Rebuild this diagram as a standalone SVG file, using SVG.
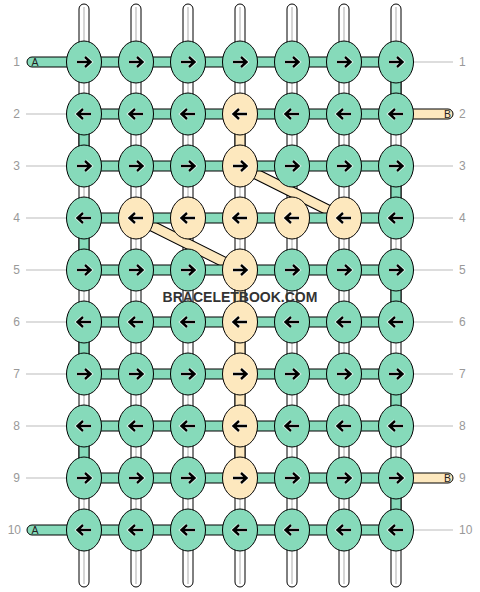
<svg xmlns="http://www.w3.org/2000/svg" xmlns:xlink="http://www.w3.org/1999/xlink" width="480" height="592" viewBox="0 0 480 592">
<style>
.vs{fill:#fff;stroke:#000;stroke-width:1}
.vc{stroke:#bbb;stroke-width:1.2}
.gs{fill:#86DABA;stroke:#000;stroke-width:1}
.ys{fill:#FDE8BE;stroke:#000;stroke-width:1}
.g{fill:#86DABA;stroke:#000;stroke-width:1}
.y{fill:#FDE8BE;stroke:#000;stroke-width:1}
.halo{fill:none;stroke:#fff;stroke-width:4.2;stroke-opacity:0.7}
.arr{fill:none;stroke:#000;stroke-width:2.4}
.gl{stroke:#bbb;stroke-width:1}
.num{font-family:"Liberation Sans",Arial,sans-serif;font-size:12px;fill:#999}
.lt{font-family:"Liberation Sans",Arial,sans-serif;font-size:10.5px;fill:#222}
.wm{font-family:"Liberation Sans",Arial,sans-serif;font-size:14px;font-weight:bold;fill:#333}
</style>
<defs>
<g id="ar"><path d="M-7,0H6M1,-5L6.5,0L1,5" class="halo"/><path d="M-7,0H6M1,-5L6.5,0L1,5" class="arr"/></g>
<g id="al"><path d="M7,0H-6M-1,-5L-6.5,0L-1,5" class="halo"/><path d="M7,0H-6M-1,-5L-6.5,0L-1,5" class="arr"/></g>
<ellipse id="eg" rx="17.5" ry="21" class="g"/>
<ellipse id="ey" rx="17.5" ry="21" class="y"/>
</defs>
<rect width="480" height="592" fill="#fff"/>
<g id="connectors">
<g id="guides">
<line x1="26" y1="114" x2="66.5" y2="114" class="gl"/>
<line x1="26" y1="166" x2="66.5" y2="166" class="gl"/>
<line x1="26" y1="218" x2="66.5" y2="218" class="gl"/>
<line x1="26" y1="270" x2="66.5" y2="270" class="gl"/>
<line x1="26" y1="322" x2="66.5" y2="322" class="gl"/>
<line x1="26" y1="374" x2="66.5" y2="374" class="gl"/>
<line x1="26" y1="426" x2="66.5" y2="426" class="gl"/>
<line x1="26" y1="478" x2="66.5" y2="478" class="gl"/>
<line x1="413.5" y1="62" x2="453" y2="62" class="gl"/>
<line x1="413.5" y1="166" x2="453" y2="166" class="gl"/>
<line x1="413.5" y1="218" x2="453" y2="218" class="gl"/>
<line x1="413.5" y1="270" x2="453" y2="270" class="gl"/>
<line x1="413.5" y1="322" x2="453" y2="322" class="gl"/>
<line x1="413.5" y1="374" x2="453" y2="374" class="gl"/>
<line x1="413.5" y1="426" x2="453" y2="426" class="gl"/>
<line x1="413.5" y1="530" x2="453" y2="530" class="gl"/>
</g>
<g id="vertical-strands">
<rect x="79" y="4" width="10" height="583" rx="5" class="vs"/><line x1="84" y1="7" x2="84" y2="584" class="vc"/>
<rect x="131" y="4" width="10" height="583" rx="5" class="vs"/><line x1="136" y1="7" x2="136" y2="584" class="vc"/>
<rect x="183" y="4" width="10" height="583" rx="5" class="vs"/><line x1="188" y1="7" x2="188" y2="584" class="vc"/>
<rect x="235" y="4" width="10" height="583" rx="5" class="vs"/><line x1="240" y1="7" x2="240" y2="584" class="vc"/>
<rect x="287" y="4" width="10" height="583" rx="5" class="vs"/><line x1="292" y1="7" x2="292" y2="584" class="vc"/>
<rect x="339" y="4" width="10" height="583" rx="5" class="vs"/><line x1="344" y1="7" x2="344" y2="584" class="vc"/>
<rect x="391" y="4" width="10" height="583" rx="5" class="vs"/><line x1="396" y1="7" x2="396" y2="584" class="vc"/>
</g>
<g id="vertical-colored">
<rect x="79" y="132" width="10" height="16" class="gs"/>
<rect x="79" y="236" width="10" height="16" class="gs"/>
<rect x="79" y="340" width="10" height="16" class="gs"/>
<rect x="79" y="444" width="10" height="16" class="gs"/>
<rect x="391" y="80" width="10" height="16" class="gs"/>
<rect x="391" y="184" width="10" height="16" class="gs"/>
<rect x="391" y="288" width="10" height="16" class="gs"/>
<rect x="391" y="392" width="10" height="16" class="gs"/>
<rect x="391" y="496" width="10" height="16" class="gs"/>
<rect x="235" y="132" width="10" height="16" class="ys"/>
<rect x="235" y="288" width="10" height="16" class="ys"/>
<rect x="235" y="340" width="10" height="16" class="ys"/>
<rect x="235" y="392" width="10" height="16" class="ys"/>
<rect x="235" y="444" width="10" height="16" class="ys"/>
</g>
<g id="diagonals">
<line x1="240" y1="166" x2="344" y2="218" stroke="#000" stroke-width="11"/>
<line x1="240" y1="166" x2="344" y2="218" stroke="#FDE8BE" stroke-width="9"/>
<line x1="136" y1="218" x2="240" y2="270" stroke="#000" stroke-width="11"/>
<line x1="136" y1="218" x2="240" y2="270" stroke="#FDE8BE" stroke-width="9"/>
</g>
<g id="horizontal-strands">
<rect x="84" y="57" width="312" height="10" class="gs"/>
<rect x="84" y="109" width="312" height="10" class="gs"/>
<rect x="84" y="161" width="312" height="10" class="gs"/>
<rect x="84" y="213" width="312" height="10" class="gs"/>
<rect x="84" y="265" width="312" height="10" class="gs"/>
<rect x="84" y="317" width="312" height="10" class="gs"/>
<rect x="84" y="369" width="312" height="10" class="gs"/>
<rect x="84" y="421" width="312" height="10" class="gs"/>
<rect x="84" y="473" width="312" height="10" class="gs"/>
<rect x="84" y="525" width="312" height="10" class="gs"/>
</g>
<g id="stubs">
<path d="M70,57H32A5,5 0 0 0 32,67H70Z" class="gs"/>
<path d="M70,525H32A5,5 0 0 0 32,535H70Z" class="gs"/>
<path d="M410,109H448A5,5 0 0 1 448,119H410Z" class="ys"/>
<path d="M410,473H448A5,5 0 0 1 448,483H410Z" class="ys"/>
</g>
</g>
<g id="labels">
<text x="35" y="66" class="lt" text-anchor="middle">A</text>
<text x="35" y="534" class="lt" text-anchor="middle">A</text>
<text x="447.5" y="118" class="lt" text-anchor="middle">B</text>
<text x="447.5" y="482" class="lt" text-anchor="middle">B</text>
<text x="20" y="66.3" class="num" text-anchor="end">1</text>
<text x="20" y="118.3" class="num" text-anchor="end">2</text>
<text x="20" y="170.3" class="num" text-anchor="end">3</text>
<text x="20" y="222.3" class="num" text-anchor="end">4</text>
<text x="20" y="274.3" class="num" text-anchor="end">5</text>
<text x="20" y="326.3" class="num" text-anchor="end">6</text>
<text x="20" y="378.3" class="num" text-anchor="end">7</text>
<text x="20" y="430.3" class="num" text-anchor="end">8</text>
<text x="20" y="482.3" class="num" text-anchor="end">9</text>
<text x="21" y="534.3" class="num" text-anchor="end">10</text>
<text x="459" y="66.3" class="num">1</text>
<text x="459" y="118.3" class="num">2</text>
<text x="459" y="170.3" class="num">3</text>
<text x="459" y="222.3" class="num">4</text>
<text x="459" y="274.3" class="num">5</text>
<text x="459" y="326.3" class="num">6</text>
<text x="459" y="378.3" class="num">7</text>
<text x="459" y="430.3" class="num">8</text>
<text x="459" y="482.3" class="num">9</text>
<text x="459" y="534.3" class="num">10</text>
</g>
<g id="nodes">
<g id="r1c1"><use href="#eg" x="84" y="62"/><use href="#ar" x="84" y="62"/></g>
<g id="r1c2"><use href="#eg" x="136" y="62"/><use href="#ar" x="136" y="62"/></g>
<g id="r1c3"><use href="#eg" x="188" y="62"/><use href="#ar" x="188" y="62"/></g>
<g id="r1c4"><use href="#eg" x="240" y="62"/><use href="#ar" x="240" y="62"/></g>
<g id="r1c5"><use href="#eg" x="292" y="62"/><use href="#ar" x="292" y="62"/></g>
<g id="r1c6"><use href="#eg" x="344" y="62"/><use href="#ar" x="344" y="62"/></g>
<g id="r1c7"><use href="#eg" x="396" y="62"/><use href="#ar" x="396" y="62"/></g>
<g id="r2c1"><use href="#eg" x="84" y="114"/><use href="#al" x="84" y="114"/></g>
<g id="r2c2"><use href="#eg" x="136" y="114"/><use href="#al" x="136" y="114"/></g>
<g id="r2c3"><use href="#eg" x="188" y="114"/><use href="#al" x="188" y="114"/></g>
<g id="r2c4"><use href="#ey" x="240" y="114"/><use href="#al" x="240" y="114"/></g>
<g id="r2c5"><use href="#eg" x="292" y="114"/><use href="#al" x="292" y="114"/></g>
<g id="r2c6"><use href="#eg" x="344" y="114"/><use href="#al" x="344" y="114"/></g>
<g id="r2c7"><use href="#eg" x="396" y="114"/><use href="#al" x="396" y="114"/></g>
<g id="r3c1"><use href="#eg" x="84" y="166"/><use href="#ar" x="84" y="166"/></g>
<g id="r3c2"><use href="#eg" x="136" y="166"/><use href="#ar" x="136" y="166"/></g>
<g id="r3c3"><use href="#eg" x="188" y="166"/><use href="#ar" x="188" y="166"/></g>
<g id="r3c4"><use href="#ey" x="240" y="166"/><use href="#ar" x="240" y="166"/></g>
<g id="r3c5"><use href="#eg" x="292" y="166"/><use href="#ar" x="292" y="166"/></g>
<g id="r3c6"><use href="#eg" x="344" y="166"/><use href="#ar" x="344" y="166"/></g>
<g id="r3c7"><use href="#eg" x="396" y="166"/><use href="#ar" x="396" y="166"/></g>
<g id="r4c1"><use href="#eg" x="84" y="218"/><use href="#al" x="84" y="218"/></g>
<g id="r4c2"><use href="#ey" x="136" y="218"/><use href="#al" x="136" y="218"/></g>
<g id="r4c3"><use href="#ey" x="188" y="218"/><use href="#al" x="188" y="218"/></g>
<g id="r4c4"><use href="#ey" x="240" y="218"/><use href="#al" x="240" y="218"/></g>
<g id="r4c5"><use href="#ey" x="292" y="218"/><use href="#al" x="292" y="218"/></g>
<g id="r4c6"><use href="#ey" x="344" y="218"/><use href="#al" x="344" y="218"/></g>
<g id="r4c7"><use href="#eg" x="396" y="218"/><use href="#al" x="396" y="218"/></g>
<g id="r5c1"><use href="#eg" x="84" y="270"/><use href="#ar" x="84" y="270"/></g>
<g id="r5c2"><use href="#eg" x="136" y="270"/><use href="#ar" x="136" y="270"/></g>
<g id="r5c3"><use href="#eg" x="188" y="270"/><use href="#ar" x="188" y="270"/></g>
<g id="r5c4"><use href="#ey" x="240" y="270"/><use href="#ar" x="240" y="270"/></g>
<g id="r5c5"><use href="#eg" x="292" y="270"/><use href="#ar" x="292" y="270"/></g>
<g id="r5c6"><use href="#eg" x="344" y="270"/><use href="#ar" x="344" y="270"/></g>
<g id="r5c7"><use href="#eg" x="396" y="270"/><use href="#ar" x="396" y="270"/></g>
<g id="r6c1"><use href="#eg" x="84" y="322"/><use href="#al" x="84" y="322"/></g>
<g id="r6c2"><use href="#eg" x="136" y="322"/><use href="#al" x="136" y="322"/></g>
<g id="r6c3"><use href="#eg" x="188" y="322"/><use href="#al" x="188" y="322"/></g>
<g id="r6c4"><use href="#ey" x="240" y="322"/><use href="#al" x="240" y="322"/></g>
<g id="r6c5"><use href="#eg" x="292" y="322"/><use href="#al" x="292" y="322"/></g>
<g id="r6c6"><use href="#eg" x="344" y="322"/><use href="#al" x="344" y="322"/></g>
<g id="r6c7"><use href="#eg" x="396" y="322"/><use href="#al" x="396" y="322"/></g>
<g id="r7c1"><use href="#eg" x="84" y="374"/><use href="#ar" x="84" y="374"/></g>
<g id="r7c2"><use href="#eg" x="136" y="374"/><use href="#ar" x="136" y="374"/></g>
<g id="r7c3"><use href="#eg" x="188" y="374"/><use href="#ar" x="188" y="374"/></g>
<g id="r7c4"><use href="#ey" x="240" y="374"/><use href="#ar" x="240" y="374"/></g>
<g id="r7c5"><use href="#eg" x="292" y="374"/><use href="#ar" x="292" y="374"/></g>
<g id="r7c6"><use href="#eg" x="344" y="374"/><use href="#ar" x="344" y="374"/></g>
<g id="r7c7"><use href="#eg" x="396" y="374"/><use href="#ar" x="396" y="374"/></g>
<g id="r8c1"><use href="#eg" x="84" y="426"/><use href="#al" x="84" y="426"/></g>
<g id="r8c2"><use href="#eg" x="136" y="426"/><use href="#al" x="136" y="426"/></g>
<g id="r8c3"><use href="#eg" x="188" y="426"/><use href="#al" x="188" y="426"/></g>
<g id="r8c4"><use href="#ey" x="240" y="426"/><use href="#al" x="240" y="426"/></g>
<g id="r8c5"><use href="#eg" x="292" y="426"/><use href="#al" x="292" y="426"/></g>
<g id="r8c6"><use href="#eg" x="344" y="426"/><use href="#al" x="344" y="426"/></g>
<g id="r8c7"><use href="#eg" x="396" y="426"/><use href="#al" x="396" y="426"/></g>
<g id="r9c1"><use href="#eg" x="84" y="478"/><use href="#ar" x="84" y="478"/></g>
<g id="r9c2"><use href="#eg" x="136" y="478"/><use href="#ar" x="136" y="478"/></g>
<g id="r9c3"><use href="#eg" x="188" y="478"/><use href="#ar" x="188" y="478"/></g>
<g id="r9c4"><use href="#ey" x="240" y="478"/><use href="#ar" x="240" y="478"/></g>
<g id="r9c5"><use href="#eg" x="292" y="478"/><use href="#ar" x="292" y="478"/></g>
<g id="r9c6"><use href="#eg" x="344" y="478"/><use href="#ar" x="344" y="478"/></g>
<g id="r9c7"><use href="#eg" x="396" y="478"/><use href="#ar" x="396" y="478"/></g>
<g id="r10c1"><use href="#eg" x="84" y="530"/><use href="#al" x="84" y="530"/></g>
<g id="r10c2"><use href="#eg" x="136" y="530"/><use href="#al" x="136" y="530"/></g>
<g id="r10c3"><use href="#eg" x="188" y="530"/><use href="#al" x="188" y="530"/></g>
<g id="r10c4"><use href="#eg" x="240" y="530"/><use href="#al" x="240" y="530"/></g>
<g id="r10c5"><use href="#eg" x="292" y="530"/><use href="#al" x="292" y="530"/></g>
<g id="r10c6"><use href="#eg" x="344" y="530"/><use href="#al" x="344" y="530"/></g>
<g id="r10c7"><use href="#eg" x="396" y="530"/><use href="#al" x="396" y="530"/></g>
</g>
<text x="240" y="301.5" class="wm" text-anchor="middle">BRACELETBOOK.COM</text>
</svg>
